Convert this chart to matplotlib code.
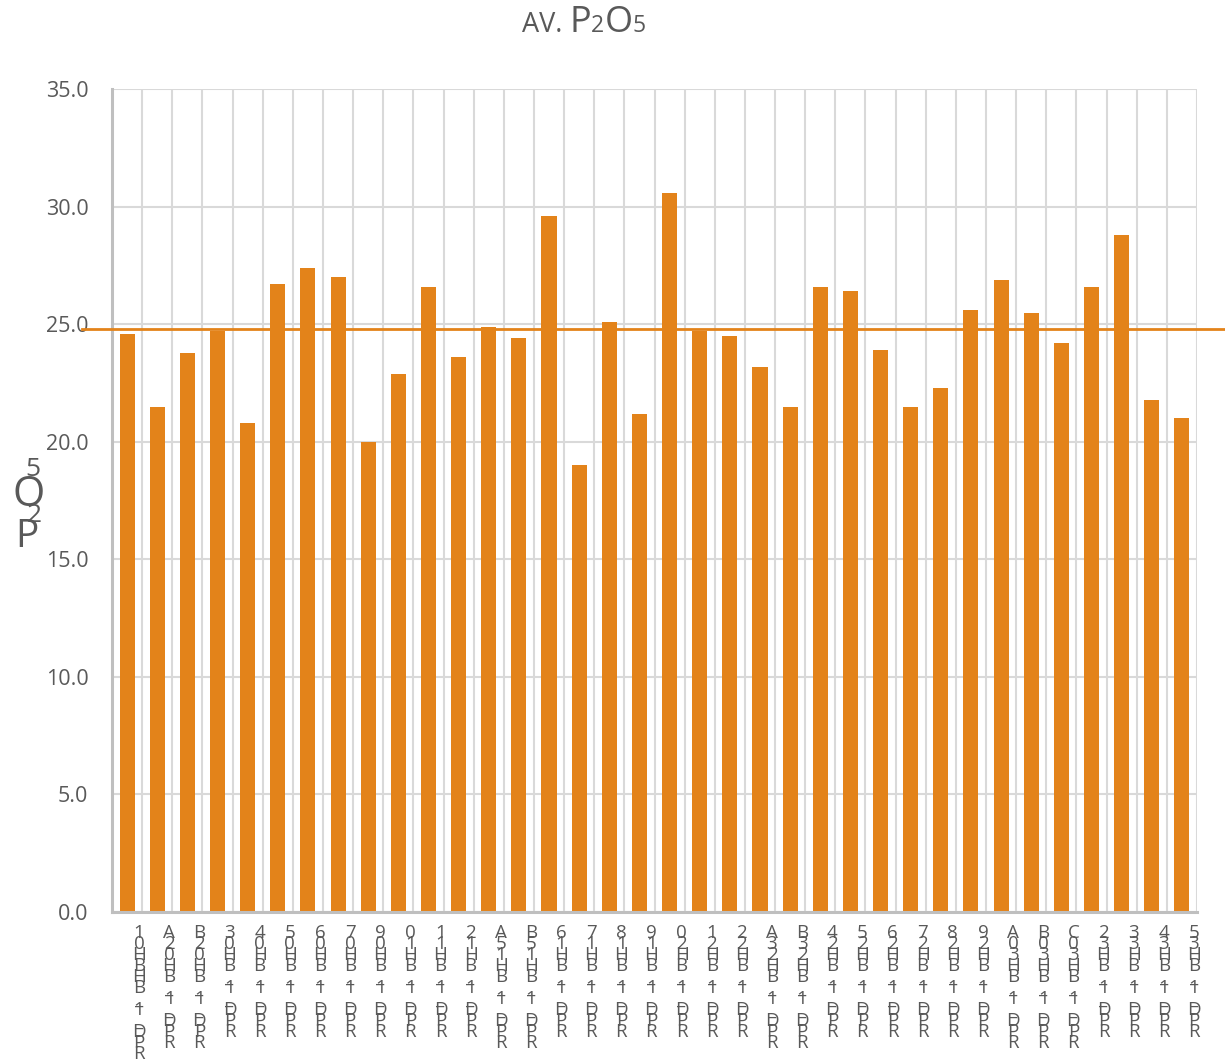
import numpy as np
import matplotlib
matplotlib.use('Agg')
import matplotlib.pyplot as plt
import matplotlib.transforms as mtransforms

# etiquetes tal com surten al gràfic (caràcters apilats de dalt a baix)
categories = [
    "10HBHB_1_DPR", "A20HB_1_DPR", "B20HB_1_DPR", "30HB_1_DPR", "40HB_1_DPR",
    "50HB_1_DPR", "60HB_1_DPR", "70HB_1_DPR", "90HB_1_DPR", "01HB_1_DPR",
    "11HB_1_DPR", "21HB_1_DPR", "A51HB_1_DPR", "B51HB_1_DPR", "61HB_1_DPR",
    "71HB_1_DPR", "81HB_1_DPR", "91HB_1_DPR", "02HB_1_DPR", "12HB_1_DPR",
    "22HB_1_DPR", "A32HB_1_DPR", "B32HB_1_DPR", "42HB_1_DPR", "52HB_1_DPR",
    "62HB_1_DPR", "72HB_1_DPR", "82HB_1_DPR", "92HB_1_DPR", "A03HB_1_DPR",
    "B03HB_1_DPR", "C03HB_1_DPR", "23HB_1_DPR", "33HB_1_DPR", "43HB_1_DPR",
    "53HB_1_DPR",
]
values = [
    24.6, 21.5, 23.8, 24.7, 20.8, 26.7, 27.4, 27.0, 20.0, 22.9,
    26.6, 23.6, 24.9, 24.4, 29.6, 19.0, 25.1, 21.2, 30.6, 24.7,
    24.5, 23.2, 21.5, 26.6, 26.4, 23.9, 21.5, 22.3, 25.6, 26.9,
    25.5, 24.2, 26.6, 28.8, 21.8, 21.0,
]
avg_value = 24.8
yticks = [0, 5, 10, 15, 20, 25, 30, 35]

title_parts = [("AV. ", 19.5), ("P", 26), ("2", 16.5), ("O", 26), ("5", 16.5)]
ylabel_parts = [("5", 19), ("O", 30), ("2", 19), ("P", 28)]

plt.rcParams['font.family'] = ['Open Sans', 'DejaVu Sans']

W, H = 1225, 1062
BAR = '#E3831A'
GRIS_TXT = '#595959'
GRIS_GRID = '#D9D9D9'

fig = plt.figure(figsize=(W / 100, H / 100), dpi=100)
ax = fig.add_axes([112 / W, 1 - 912 / H, (1197 - 112) / W, (912 - 89.3) / H])

x = np.arange(len(categories))
ax.bar(x, values, width=0.5, color=BAR, zorder=3)
ax.set_xlim(-0.5, len(categories) - 0.5)
ax.set_ylim(0, 35)
ax.set_axisbelow(True)

# eix Y
ax.set_yticks(yticks)
ax.set_yticklabels([f'{v:.1f}' for v in yticks])
ax.tick_params(axis='y', length=0, pad=17, labelsize=15.5, labelcolor=GRIS_TXT)

# graella: horitzontal als ticks, vertical entre categories
ax.set_xticks(x + 0.5, minor=True)
ax.grid(True, which='minor', axis='x', color=GRIS_GRID, lw=1.5)
ax.grid(True, which='major', axis='y', color=GRIS_GRID, lw=1.5)
ax.set_xticks(x)
ax.set_xticklabels([])
ax.tick_params(axis='x', which='both', length=0)

# etiquetes X: un caràcter per fila, amb pas fix (com a l'original)
pas = 11.0     # px entre files
base0 = 26.0   # px des de l'eix fins a la primera línia base
for xi, lab in zip(x, categories):
    for i, ch in enumerate(lab):
        tr = ax.get_xaxis_transform() + mtransforms.ScaledTranslation(
            12 / 100, -(base0 + i * pas) / 100, fig.dpi_scale_trans)
        ax.text(xi, 0, ch, transform=tr, fontsize=13.5, color=GRIS_TXT,
                ha='center', va='baseline', clip_on=False)

for s in ['top', 'right']:
    ax.spines[s].set_visible(False)
for s in ['left', 'bottom']:
    ax.spines[s].set_color('#BFBFBF')
    ax.spines[s].set_linewidth(2.2)
    ax.spines[s].set_zorder(4)

# línia de mitjana, surt fora dels eixos
blend = mtransforms.blended_transform_factory(fig.transFigure, ax.transData)
ax.plot([82 / W, 1.0], [avg_value, avg_value], color=BAR, lw=2, transform=blend,
        clip_on=False, zorder=5)

# títol amb subíndexs (trossos col·locats un darrere l'altre, centrat a x=584)
r = fig.canvas.get_renderer()
peces = []
xpos = 0
for txt, fs in title_parts:
    t = fig.text(xpos / W, 1 - 32 / H, txt, fontsize=fs, color=GRIS_TXT, va='baseline', ha='left')
    peces.append(t)
    xpos = t.get_window_extent(renderer=r).x1
inici = 584 - xpos / 2
for t in peces:
    px, py = t.get_position()
    t.set_position((px + inici / W, py))

# etiqueta Y deformada: caràcters apilats
ylab_pos = [(33, 469), (29, 495), (34, 515), (27, 537)]
for (ch, fs), (px, py) in zip(ylabel_parts, ylab_pos):
    fig.text(px / W, 1 - py / H, ch, fontsize=fs, color=GRIS_TXT, ha='center', va='center')

fig.savefig('out.png', dpi=100, facecolor='white')
